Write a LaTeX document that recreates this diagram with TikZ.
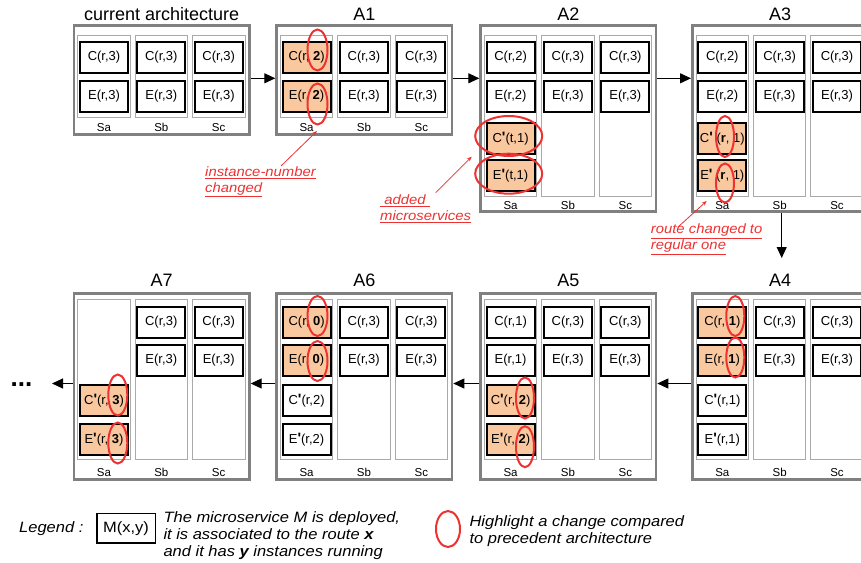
\documentclass[tikz,border=0pt]{standalone}
\usepackage{fontspec}
\setmainfont{Liberation Sans}
\newfontfamily\stretchfont[FakeStretch=1.1]{Liberation Sans}
\usetikzlibrary{arrows.meta,shapes.geometric}
\definecolor{peach}{RGB}{250,200,158}
\definecolor{hlred}{RGB}{238,50,50}
\definecolor{panelgray}{RGB}{128,128,128}
\definecolor{colgray}{RGB}{170,170,170}
\newcommand\msprime{{\fontsize{15}{15}\selectfont\bfseries\textquotesingle}}
\tikzset{
  panelbox/.style={draw=panelgray, line width=2.7pt, fill=white, inner sep=0pt, minimum width=175.3pt},
  colbox/.style={draw=colgray, line width=0.9pt, fill=white, inner sep=0pt, outer sep=0pt, minimum width=52.5pt},
  lbl/.style={inner sep=0pt, anchor=base, font=\fontsize{11.5}{13}\selectfont},
  ttl/.style={inner sep=0pt, anchor=base, font=\fontsize{18}{20}\selectfont},
  ms/.style={draw=black, line width=2pt, fill=white, inner sep=0pt, minimum width=48pt, minimum height=31pt, font=\fontsize{13}{15}\selectfont},
  msh/.style={ms, fill=peach},
  hl/.style={ellipse, draw=hlred, line width=2pt, inner sep=0pt},
  arr/.style={draw=black, line width=1pt, -{Triangle[length=11pt,width=10pt]}},
  annarr/.style={draw=hlred, line width=0.8pt, -{Stealth[length=5pt,width=4pt]}},
  ann/.style={inner sep=0pt, align=left, text=hlred, font=\stretchfont\itshape\fontsize{13.5}{16}\selectfont},
  legtxt/.style={inner sep=0pt, font=\stretchfont\itshape\fontsize{15}{17}\selectfont},
  legbox/.style={draw=black, line width=1.5pt, inner sep=0pt, minimum width=58.5pt, minimum height=29.5pt, font=\stretchfont\fontsize{15}{17}\selectfont}
}
% #1 name, #2 x0, #3 outer top, #4 outer bottom, #5 col top, #6 col bottom, #7 label baseline, #8 title baseline, #9 title
\newcommand\mkpanel[9]{%
  \pgfmathsetmacro\pnlcx{#2+89}%
  \pgfmathsetmacro\pnlcy{(#3+#4)/2}%
  \pgfmathsetmacro\pnlh{#4-#3-2.7}%
  \pgfmathsetmacro\pnlccy{(#5+#6)/2}%
  \pgfmathsetmacro\pnlch{#6-#5-0.9}%
  \node[panelbox, minimum height=\pnlh pt] (#1) at (\pnlcx,\pnlcy) {};
  \node[colbox, minimum height=\pnlch pt] (#1a) at ({#2+31.3},\pnlccy) {};
  \node[colbox, minimum height=\pnlch pt] (#1b) at ({#2+88.6},\pnlccy) {};
  \node[colbox, minimum height=\pnlch pt] (#1c) at ({#2+146},\pnlccy) {};
  \node[lbl] (#1la) at ({#2+31.3},#7) {Sa};
  \node[lbl] (#1lb) at ({#2+88.6},#7) {Sb};
  \node[lbl] (#1lc) at ({#2+146},#7) {Sc};
  \node[ttl] (#1t) at (\pnlcx,#8) {#9};
}
% columns b and c with C(r,3), E(r,3)
\newcommand\bcnodes[3]{%
  \node[ms] (#1bC) at (#1b |- #2) {C(r,3)};
  \node[ms] (#1bE) at (#1b |- #3) {E(r,3)};
  \node[ms] (#1cC) at (#1c |- #2) {C(r,3)};
  \node[ms] (#1cE) at (#1c |- #3) {E(r,3)};
}
\begin{document}
\begin{tikzpicture}[x=1pt,y=-1pt]
\useasboundingbox (0,0) rectangle (861,562);
\fill[white] (0,0) rectangle (861,562);
% row coordinates
\coordinate (tR1) at (0,57.5);
\coordinate (tR2) at (0,96.5);
\coordinate (tR3) at (0,138.3);
\coordinate (tR4) at (0,175.5);
\coordinate (bR1) at (0,322);
\coordinate (bR2) at (0,360);
\coordinate (bR3) at (0,400.3);
\coordinate (bR4) at (0,439.3);
% panels
\mkpanel{cur}{72.7}{24}{136}{35}{118}{131}{20}{current architecture}
\mkpanel{PA1}{275.3}{24}{136}{35}{118}{131}{20}{A1}
\mkpanel{PA2}{479.3}{24}{213}{35}{197}{209}{20}{A2}
\mkpanel{PA3}{691}{24}{213}{35}{197}{209}{20}{A3}
\mkpanel{PA4}{691}{292}{481}{299}{460}{476}{286.7}{A4}
\mkpanel{PA5}{479.3}{292}{481}{299}{460}{476}{286.7}{A5}
\mkpanel{PA6}{275.3}{292}{481}{299}{460}{476}{286.7}{A6}
\mkpanel{PA7}{72.7}{292}{481}{299}{460}{476}{286.7}{A7}
% current architecture
\node[ms] (curaC) at (cura |- tR1) {C(r,3)};
\node[ms] (curaE) at (cura |- tR2) {E(r,3)};
\bcnodes{cur}{tR1}{tR2}
% A1
\node[msh] (PA1aC) at (PA1a |- tR1) {C(r,\ \textbf{2})};
\node[msh] (PA1aE) at (PA1a |- tR2) {E(r,\ \textbf{2})};
\bcnodes{PA1}{tR1}{tR2}
% A2
\node[ms] (PA2aC) at (PA2a |- tR1) {C(r,2)};
\node[ms] (PA2aE) at (PA2a |- tR2) {E(r,2)};
\node[msh] (PA2aCp) at (PA2a |- tR3) {C\msprime(t,1)};
\node[msh] (PA2aEp) at (PA2a |- tR4) {E\msprime(t,1)};
\bcnodes{PA2}{tR1}{tR2}
% A3
\node[ms] (PA3aC) at (PA3a |- tR1) {C(r,2)};
\node[ms] (PA3aE) at (PA3a |- tR2) {E(r,2)};
\node[msh] (PA3aCp) at (PA3a |- tR3) {C\msprime\ (\textbf{r},\ 1)};
\node[msh] (PA3aEp) at (PA3a |- tR4) {E\msprime\ (\textbf{r},\ 1)};
\bcnodes{PA3}{tR1}{tR2}
% A4
\node[msh] (PA4aC) at (PA4a |- bR1) {C(r,\ \textbf{1})};
\node[msh] (PA4aE) at (PA4a |- bR2) {E(r,\ \textbf{1})};
\node[ms] (PA4aCp) at (PA4a |- bR3) {C\msprime(r,1)};
\node[ms] (PA4aEp) at (PA4a |- bR4) {E\msprime(r,1)};
\bcnodes{PA4}{bR1}{bR2}
% A5
\node[ms] (PA5aC) at (PA5a |- bR1) {C(r,1)};
\node[ms] (PA5aE) at (PA5a |- bR2) {E(r,1)};
\node[msh] (PA5aCp) at (PA5a |- bR3) {C\msprime(r,\ \textbf{2})};
\node[msh] (PA5aEp) at (PA5a |- bR4) {E\msprime(r,\ \textbf{2})};
\bcnodes{PA5}{bR1}{bR2}
% A6
\node[msh] (PA6aC) at (PA6a |- bR1) {C(r,\ \textbf{0})};
\node[msh] (PA6aE) at (PA6a |- bR2) {E(r,\ \textbf{0})};
\node[ms] (PA6aCp) at (PA6a |- bR3) {C\msprime(r,2)};
\node[ms] (PA6aEp) at (PA6a |- bR4) {E\msprime(r,2)};
\bcnodes{PA6}{bR1}{bR2}
% A7
\node[msh] (PA7aCp) at (PA7a |- bR3) {C\msprime(r,\ \textbf{3})};
\node[msh] (PA7aEp) at (PA7a |- bR4) {E\msprime(r,\ \textbf{3})};
\bcnodes{PA7}{bR1}{bR2}
% highlight ellipses
\node[hl, minimum width=20pt, minimum height=41pt] (hA1C) at (317.5,50) {};
\node[hl, minimum width=20pt, minimum height=41pt] (hA1E) at (317.5,104) {};
\node[hl, minimum width=67pt, minimum height=40pt] (hA2C) at (508.7,136) {};
\node[hl, minimum width=67pt, minimum height=40pt] (hA2E) at (508.7,173.7) {};
\node[hl, minimum width=18pt, minimum height=41pt] (hA3C) at (725,136.5) {};
\node[hl, minimum width=18pt, minimum height=39pt] (hA3E) at (725,183) {};
\node[hl, minimum width=18pt, minimum height=40pt] (hA4C) at (735.3,316) {};
\node[hl, minimum width=18pt, minimum height=40pt] (hA4E) at (735.3,357.5) {};
\node[hl, minimum width=18pt, minimum height=41pt] (hA5C) at (525,398) {};
\node[hl, minimum width=18pt, minimum height=41pt] (hA5E) at (525,446.7) {};
\node[hl, minimum width=20pt, minimum height=40pt] (hA6C) at (317.5,316) {};
\node[hl, minimum width=20pt, minimum height=40pt] (hA6E) at (317.5,361) {};
\node[hl, minimum width=19pt, minimum height=41pt] (hA7C) at (117.8,395) {};
\node[hl, minimum width=19pt, minimum height=41pt] (hA7E) at (117.8,443) {};
% flow arrows
\coordinate (rowT) at (0,78.3);
\coordinate (rowB) at (0,383.5);
\draw[arr] (cur.east |- rowT) -- (PA1.west |- rowT);
\draw[arr] (PA1.east |- rowT) -- (PA2.west |- rowT);
\draw[arr] (PA2.east |- rowT) -- (PA3.west |- rowT);
\coordinate (dn) at (781.7,258);
\draw[arr] (PA3.south -| dn) -- (dn);
\draw[arr] (PA4.west |- rowB) -- (PA5.east |- rowB);
\draw[arr] (PA5.west |- rowB) -- (PA6.east |- rowB);
\draw[arr] (PA6.west |- rowB) -- (PA7.east |- rowB);
\coordinate (lend) at (52,383.5);
\draw[arr] (PA7.west |- rowB) -- (lend);
\node[inner sep=0pt, anchor=base, font=\fontsize{26}{28}\selectfont\bfseries] (dots) at (21.5,386) {...};
% annotations
\node[ann, anchor=west] (ann1) at (205,182) {\underline{instance-number}\\\underline{changed}};
\coordinate (ann1s) at (281,166);
\coordinate (ann1e) at (317,131);
\draw[annarr] (ann1s) -- (ann1e);
\node[ann, anchor=west] (ann2) at (380,209) {\underline{\ added\ }\\\underline{microservices}};
\coordinate (ann2s) at (435.7,192.7);
\coordinate (ann2e) at (471.7,156.7);
\draw[annarr] (ann2s) -- (ann2e);
\node[ann, anchor=west] (ann3) at (650.7,239.5) {\underline{route changed to}\\\underline{regular one}};
\coordinate (ann3s) at (678,227);
\coordinate (ann3e) at (706.7,201);
\draw[annarr] (ann3s) -- (ann3e);
% legend
\node[legtxt, anchor=west] (legl) at (19,529) {Legend :};
\node[legbox] (legb) at (126,528.3) {M(x,y)};
\node[legtxt, anchor=west, align=left] (legd) at (163.3,535.5) {The microservice M is deployed,\\it is associated to the route \textbf{x}\\and it has \textbf{y} instances running};
\node[hl, minimum width=24pt, minimum height=36pt] (legh) at (448,529) {};
\node[legtxt, anchor=west, align=left] (legt) at (469.3,531) {Highlight a change compared\\to precedent architecture};
\end{tikzpicture}
\end{document}
